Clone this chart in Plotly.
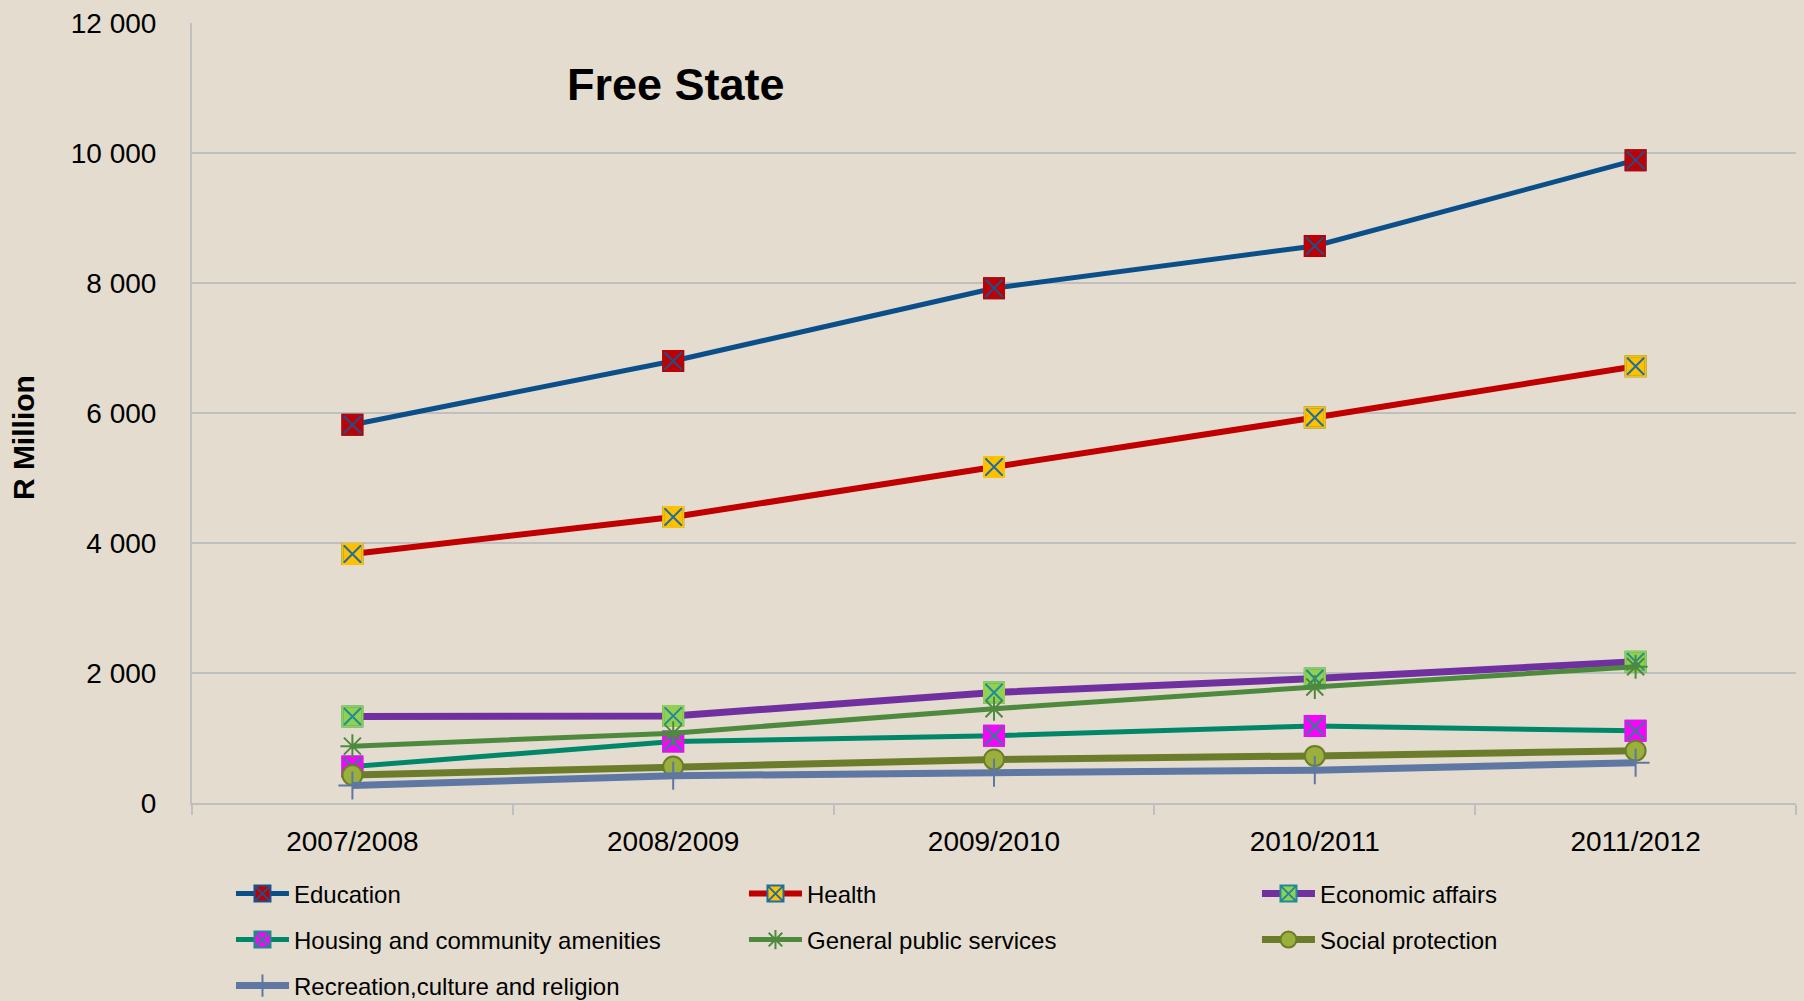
import plotly.graph_objects as go

# Datos (R millones)
anios = ['2007/2008', '2008/2009', '2009/2010', '2010/2011', '2011/2012']

educacion = [5820, 6800, 7920, 8570, 9890]
salud = [3830, 4400, 5170, 5930, 6720]
asuntos_economicos = [1330, 1340, 1700, 1915, 2175]
vivienda = [560, 945, 1035, 1185, 1110]
servicios_publicos = [875, 1075, 1450, 1785, 2095]
proteccion_social = [430, 560, 670, 725, 805]
recreacion = [270, 420, 465, 505, 620]

fondo = '#E4DCCF'
gris = '#BFBFBF'
fuente = 'Liberation Sans, Arial, sans-serif'

# nombre, valores, color de línea, ancho, símbolo, relleno, color de la X, leyenda
series = [
    ('Education', educacion, '#0B4F8A', 5, 'square-x', '#C00000', '#1A5290', 'legend'),
    ('Health', salud, '#C00000', 6, 'square-x', '#FFC000', '#1F6E9E', 'legend'),
    ('Economic affairs', asuntos_economicos, '#7030A0', 7, 'square-x', '#92D050', '#1F8A9A', 'legend'),
    ('Housing and community amenities', vivienda, '#00876A', 5, 'square-x', '#FF00FF', '#1F8A8A', 'legend2'),
    ('General public services', servicios_publicos, '#4E8A3E', 5, 'asterisk-open', '#4E8A3E', '#4E8A3E', 'legend2'),
    ('Social protection', proteccion_social, '#6B7D2A', 7, 'circle', '#9BAF3C', '#6B7D2A', 'legend2'),
    ('Recreation,culture and religion', recreacion, '#5F77A3', 7, 'cross-thin-open', '#5F77A3', '#5F77A3', 'legend3'),
]

fig = go.Figure()

for nombre, valores, color, ancho, simbolo, relleno, color_x, leyenda in series:
    fig.add_trace(go.Scatter(
        x=anios, y=valores, mode='lines+markers', name=nombre,
        line=dict(color=color, width=ancho),
        marker=dict(symbol=simbolo, size=20, color=relleno,
                    line=dict(color=color_x, width=2)),
        legend=leyenda,
    ))
    # tapar el borde del cuadrado con el color de relleno
    if simbolo == 'square-x':
        fig.add_trace(go.Scatter(
            x=anios, y=valores, mode='markers', showlegend=False, hoverinfo='skip',
            marker=dict(symbol='square-open', size=20, color=relleno,
                        line=dict(color=relleno, width=2)),
        ))

# Título y etiqueta del eje Y como anotaciones
fig.add_annotation(text='<b>Free State</b>', x=0.302, y=0.921, xref='paper', yref='paper',
                   xanchor='center', yanchor='middle',
                   showarrow=False, font=dict(size=45, color='black', family=fuente))
fig.add_annotation(text='<b>R Million</b>', x=-0.1054, y=0.469, xref='paper', yref='paper',
                   xanchor='center', yanchor='middle',
                   textangle=-90, showarrow=False, font=dict(size=30, color='black', family=fuente))

leyenda_base = dict(orientation='h', xanchor='left', x=0.0243, yanchor='middle', yref='container',
                    bgcolor='rgba(0,0,0,0)', font=dict(size=24, color='black', family=fuente),
                    entrywidth=445, entrywidthmode='pixels', itemwidth=53, traceorder='normal')

fig.update_layout(
    width=1804, height=1001,
    paper_bgcolor=fondo, plot_bgcolor=fondo,
    margin=dict(l=192, r=8, t=18, b=198),
    separators='. ',
    font=dict(family=fuente, color='black'),
    legend=dict(leyenda_base, y=1 - 894 / 1001),
    legend2=dict(leyenda_base, y=1 - 940 / 1001),
    legend3=dict(leyenda_base, y=1 - 986 / 1001),
    xaxis=dict(
        range=[-0.5, 4.5], showline=True, linecolor=gris, linewidth=2,
        ticks='outside', tickson='boundaries', ticklen=10, tickcolor=gris, tickwidth=1.5,
        showgrid=False, tickfont=dict(size=28, color='black', family=fuente),
        ticklabelstandoff=12,
    ),
    yaxis=dict(
        range=[0, 12000], dtick=2000, tickformat=',', showline=True, linecolor=gris, linewidth=2,
        gridcolor=gris, gridwidth=1.5, zeroline=False,
        tickfont=dict(size=28, color='black', family=fuente), ticklabelstandoff=28,
    ),
)

fig.write_html('out.html', config={'displayModeBar': False},
               post_script="document.body.style.margin='0';")
